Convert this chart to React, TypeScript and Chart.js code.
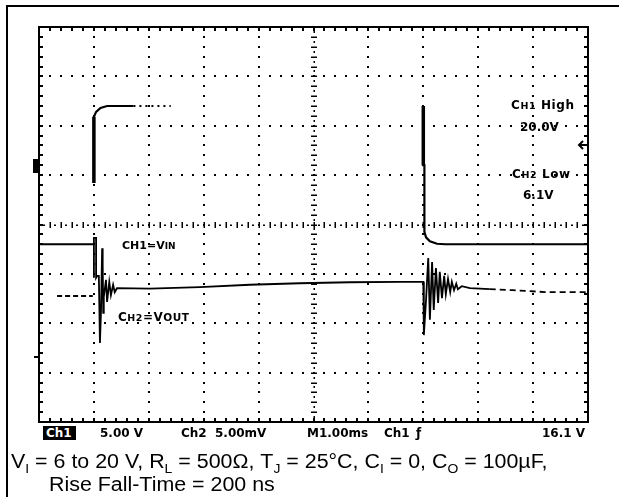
import React, { useEffect, useRef } from 'react';
import { Chart, registerables } from 'chart.js';

Chart.register(...registerables);

// Time base: M 1.00 ms / div, 10 divisions
const timeRangeMs = [0, 10];
// CH1: 5.00 V / div (input voltage), CH2: 5.00 mV / div (output voltage, AC)
const ch1RangeV = [-12, 28];
const ch2RangeMv = [-20, 20];
const divRange = [-4, 4];

// CH1 = VIN trace [ms, V]; null breaks the trace (edges too fast to draw)
const ch1Trace: [number, number | null][] = [
  [0, 6], [1.0, 6], [1.0, null],
  [1.0, 12.2], [1.0, 18.9], [1.04, 19.4], [1.12, 19.8], [1.24, 20.0], [1.72, 20.0], [1.72, null],
  [7.0, 20.0], [7.0, 14.0], [7.02, 14.0], [7.02, 7.25], [7.05, 6.7], [7.12, 6.3], [7.25, 6.05], [7.4, 6.0], [10, 6.0],
];
// brighter (thicker) parts of the CH1 edges
const ch1EdgeBright: [number, number | null][] = [
  [1.0, 12.2], [1.0, 18.9], [1.0, null], [7.0, 20.0], [7.0, 14.0],
];
const ch1FadedHigh: [number, number][] = [[1.72, 20.0], [2.4, 20.0]];

// CH2 = VOUT trace [ms, mV]
const ch2Before: [number, number][] = [[0.33, -7.25], [0.98, -7.25]];
const ch2Trace: [number, number][] = [
  [1.0, -5.4], [1.0, -1.35], [1.04, -1.35], [1.04, -5.4], [1.06, -5.2], [1.09, -5.2],
  [1.11, -12.0], [1.13, -8.65], [1.15, -2.4], [1.16, -4.1], [1.17, -8.95], [1.18, -7.35],
  [1.22, -5.6], [1.24, -7.85], [1.28, -5.8], [1.31, -7.15], [1.35, -6.1], [1.38, -6.85],
  [1.42, -6.45], [2.02, -6.5], [2.93, -6.35], [3.84, -6.1], [4.75, -5.95], [5.66, -5.85],
  [6.58, -5.8], [7.0, -5.8],
  [7.01, -11.2], [7.05, -7.65], [7.09, -3.4], [7.12, -9.65], [7.16, -3.8], [7.19, -8.65],
  [7.23, -4.4], [7.27, -7.95], [7.3, -4.8], [7.34, -7.45], [7.38, -5.2], [7.41, -7.05],
  [7.45, -5.5], [7.49, -6.85], [7.52, -5.8], [7.56, -6.65], [7.6, -6.0], [7.63, -6.55],
  [7.7, -6.25], [7.85, -6.45], [8.21, -6.55],
];
const ch2Tail: [number, number][] = [[8.21, -6.55], [8.63, -6.65], [9.25, -6.85], [10, -6.85]];

const toXY = (arr: [number, number | null][]) => arr.map(([x, y]) => ({ x, y }));

const graticule = {
  id: 'graticule',
  beforeDatasetsDraw(chart: any) {
    const { ctx, chartArea, scales } = chart;
    const { left, top, right, bottom } = chartArea;
    const x = scales.x;
    const g = scales.g;
    ctx.save();
    ctx.fillStyle = '#000';
    ctx.strokeStyle = '#000';
    // dotted grid
    for (let i = 1; i <= 9; i++) {
      if (i === 5) continue;
      const px = Math.round(x.getPixelForValue(i));
      for (let k = 1; k < 40; k++) {
        const py = Math.round(g.getPixelForValue(-4 + k * 0.2));
        ctx.fillRect(px - 1, py - 1, 2, 2);
      }
    }
    for (let j = -3; j <= 3; j++) {
      if (j === 0) continue;
      const py = Math.round(g.getPixelForValue(j));
      for (let k = 1; k < 50; k++) {
        const px = Math.round(x.getPixelForValue(k * 0.2));
        ctx.fillRect(px - 1, py - 1, 2, 2);
      }
    }
    // centre lines with minor ticks
    const cy = Math.round(g.getPixelForValue(0));
    const cx = Math.round(x.getPixelForValue(5));
    for (let k = 1; k < 100; k++) {
      const px = Math.round(x.getPixelForValue(k * 0.1));
      if (k % 2 === 0) ctx.fillRect(px - 0.5, cy - 3, 1.5, 6);
      else ctx.fillRect(px - 1, cy - 0.5, 2, 1.5);
    }
    for (let k = 1; k < 80; k++) {
      const py = Math.round(g.getPixelForValue(-4 + k * 0.1));
      if (k % 2 === 0) ctx.fillRect(cx - 3, py - 0.5, 6, 1.5);
      else ctx.fillRect(cx - 0.5, py - 1, 1.5, 2);
    }
    // edge ticks
    for (let k = 1; k < 50; k++) {
      const px = Math.round(x.getPixelForValue(k * 0.2));
      ctx.fillRect(px - 1, top, 2, 4);
      ctx.fillRect(px - 1, bottom - 4, 2, 4);
    }
    for (let k = 1; k < 40; k++) {
      const py = Math.round(g.getPixelForValue(-4 + k * 0.2));
      ctx.fillRect(left, py - 1, 4, 2);
      ctx.fillRect(right - 4, py - 1, 4, 2);
    }
    // border
    ctx.lineWidth = 2;
    ctx.strokeRect(left, top, right - left, bottom - top);
    // channel markers
    ctx.fillRect(left - 6, 159, 6, 14);
    ctx.fillRect(left - 5, 356, 5, 2);
    // trigger level arrow
    ctx.lineWidth = 2;
    ctx.beginPath();
    ctx.moveTo(right - 9, 145);
    ctx.lineTo(right, 145);
    ctx.moveTo(right - 5, 141);
    ctx.lineTo(right - 9, 145);
    ctx.lineTo(right - 5, 149);
    ctx.stroke();
    ctx.restore();
  },
  afterDraw(chart: any) {
    const { ctx } = chart;
    ctx.save();
    ctx.fillStyle = '#000';
    ctx.fillRect(6, 5, 613, 2);
    ctx.fillRect(6, 5, 2, 492);
    ctx.restore();
  },
};

const scopeFont = '"DejaVu Sans", sans-serif';

function Label({ x, y, children, size = 12, bold = true, spacing = 0 }: any) {
  return (
    <div
      style={{
        position: 'absolute',
        left: x,
        top: y,
        transform: 'translateY(-50%)',
        font: `${bold ? 'bold ' : ''}${size}px ${scopeFont}`,
        lineHeight: '1',
        letterSpacing: spacing,
        whiteSpace: 'nowrap',
        color: '#000',
      }}
    >
      {children}
    </div>
  );
}

const sm = (t: string, s = 9.5) => <span style={{ fontSize: s }}>{t}</span>;
const sub = (t: string) => (
  <span style={{ fontSize: 13, position: 'relative', top: 5, lineHeight: 0 }}>{t}</span>
);

const captionStyle: React.CSSProperties = {
  position: 'absolute',
  font: '20px "Liberation Sans", Arial, sans-serif',
  lineHeight: '20px',
  whiteSpace: 'nowrap',
  color: '#000',
  transform: 'scaleX(1.07)',
  transformOrigin: 'left center',
};

export default function App() {
  const ref = useRef<HTMLCanvasElement>(null);
  useEffect(() => {
    if (!ref.current) return;
    const chart = new Chart(ref.current, {
      type: 'line',
      data: {
        datasets: [
          { data: toXY(ch1Trace), yAxisID: 'y1', borderColor: '#000', borderWidth: 2.2, pointRadius: 0, spanGaps: false },
          { data: toXY(ch1EdgeBright), yAxisID: 'y1', borderColor: '#000', borderWidth: 3.5, pointRadius: 0, spanGaps: false },
          { data: toXY(ch1FadedHigh), yAxisID: 'y1', borderColor: '#000', borderWidth: 2, borderDash: [2, 4], pointRadius: 0 },
          { data: toXY(ch2Before), yAxisID: 'y2', borderColor: '#000', borderWidth: 2, borderDash: [5, 3], pointRadius: 0 },
          { data: toXY(ch2Trace), yAxisID: 'y2', borderColor: '#000', borderWidth: 1.8, pointRadius: 0 },
          { data: toXY(ch2Tail), yAxisID: 'y2', borderColor: '#000', borderWidth: 1.8, borderDash: [6, 4], pointRadius: 0 },
        ],
      },
      options: {
        responsive: false,
        animation: false,
        layout: { padding: { left: 39, top: 27, right: 31, bottom: 75 } },
        plugins: { legend: { display: false }, tooltip: { enabled: false } },
        elements: { line: { tension: 0 } },
        scales: {
          x: { type: 'linear', min: timeRangeMs[0], max: timeRangeMs[1], display: false },
          y1: { type: 'linear', min: ch1RangeV[0], max: ch1RangeV[1], display: false },
          y2: { type: 'linear', min: ch2RangeMv[0], max: ch2RangeMv[1], display: false },
          g: { type: 'linear', axis: 'y', min: divRange[0], max: divRange[1], display: false },
        } as any,
      },
      plugins: [graticule],
    });
    return () => chart.destroy();
  }, []);

  return (
    <div style={{ position: 'absolute', left: 0, top: 0, width: 619, height: 497, background: '#fff' }}>
      <canvas ref={ref} width={619} height={497} style={{ position: 'absolute', left: 0, top: 0, width: 619, height: 497 }} />
      <Label x={122} y={245} size={11}>CH1=V{sm('IN', 9)}</Label>
      <Label x={118} y={317} size={12} spacing={0.5}>C{sm('H2')}=V{sm('OUT', 10.5)}</Label>
      <Label x={511} y={105} spacing={0.6}>C{sm('H1')} High</Label>
      <Label x={520} y={127}>20.0V</Label>
      <Label x={512} y={174} spacing={0.6}>C{sm('H2')} Low</Label>
      <Label x={523} y={195}>6.1V</Label>
      <div style={{ position: 'absolute', left: 43, top: 426, width: 33, height: 14, background: '#000' }} />
      <Label x={46} y={433}><span style={{ color: '#fff' }}>Ch1</span></Label>
      <Label x={100} y={433}>5.00 V</Label>
      <Label x={181} y={433}>Ch2</Label>
      <Label x={215} y={433}>5.00mV</Label>
      <Label x={307} y={433}>M1.00ms</Label>
      <Label x={384} y={433}>Ch1</Label>
      <Label x={416} y={433}>ƒ</Label>
      <Label x={542} y={433}>16.1 V</Label>
      <div style={{ ...captionStyle, left: 11, top: 451 }}>
        V{sub('I')} = 6 to 20 V, R{sub('L')} = 500Ω, T{sub('J')} = 25°C, C{sub('I')} = 0, C{sub('O')} = 100µF,
      </div>
      <div style={{ ...captionStyle, left: 49, top: 474 }}>Rise Fall-Time = 200 ns</div>
    </div>
  );
}
